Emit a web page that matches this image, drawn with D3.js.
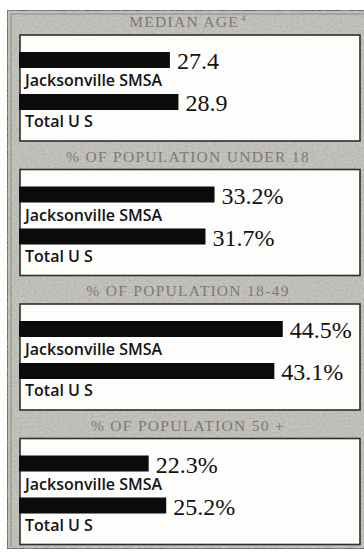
<!DOCTYPE html>
<html>
<head>
<meta charset="utf-8">
<script src="https://cdn.jsdelivr.net/npm/d3@7/dist/d3.min.js"></script>
<style>
  html, body { margin: 0; padding: 0; background: #fff; }
  svg { display: block; }
</style>
</head>
<body>
<div id="chart"></div>
<script>
// Population profile: Jacksonville SMSA against the U.S. total
const panelTitles = ["MEDIAN AGE", "% OF POPULATION UNDER 18", "% OF POPULATION 18-49", "% OF POPULATION 50 +"];
const titleNotes = ["4", "", "", ""];
const areas = ["Jacksonville SMSA", "Total U S"];
const jacksonville = [27.4, 33.2, 44.5, 22.3];
const totalUS = [28.9, 31.7, 43.1, 25.2];
const valueSuffix = ["", "%", "%", "%"];

const W = 364, H = 552;
const svg = d3.select("#chart").append("svg")
  .attr("width", W).attr("height", H);

// mottled grey card stock
const defs = svg.append("defs");
const tex = defs.append("filter").attr("id", "grain")
  .attr("x", 0).attr("y", 0).attr("width", "100%").attr("height", "100%");
tex.append("feTurbulence").attr("type", "fractalNoise")
  .attr("baseFrequency", "0.35 0.5").attr("numOctaves", 2).attr("seed", 7).attr("result", "n");
tex.append("feColorMatrix").attr("in", "n").attr("type", "matrix")
  .attr("values", "0 0 0 0 0.40  0 0 0 0 0.39  0 0 0 0 0.36  0 0 0 -1.1 0.78").attr("result", "spots");
tex.append("feComposite").attr("in", "spots").attr("in2", "SourceGraphic").attr("operator", "atop");

const frameX = 7, frameY = 10;
svg.append("rect")
  .attr("x", frameX).attr("y", frameY)
  .attr("width", W - frameX + 4).attr("height", H - frameY - 3)
  .attr("fill", "#c6c4be")
  .attr("stroke", "#4a4a48").attr("stroke-width", 1.6)
  .attr("filter", "url(#grain)");

// inner rule running just inside the frame
svg.append("path")
  .attr("d", `M${frameX + 4},${H - 5} V${frameY + 4} H${W + 2}`)
  .attr("fill", "none").attr("stroke", "#8d8b86").attr("stroke-width", 1);

const boxLeft = 20, boxRight = 360;
const boxTop0 = 35, boxStep = 134.5, boxH = 106;

// one scale for the percentage panels, one for age in years
const pctScale = d3.scaleLinear().domain([0, 50]).range([14, 316]);
const ageScale = d3.scaleLinear().domain([0, 30]).range([14, 184.7]);

const panels = panelTitles.map((t, i) => ({
  title: t, note: titleNotes[i], suffix: valueSuffix[i],
  scale: i === 0 ? ageScale : pctScale,
  values: [jacksonville[i], totalUS[i]]
}));

const g = svg.selectAll("g.panel").data(panels).join("g")
  .attr("class", "panel")
  .attr("transform", (d, i) => `translate(0,${boxTop0 + i * boxStep})`);

// section heading in the grey band
const heading = g.append("text")
  .attr("x", (boxLeft + boxRight) / 2 - 2).attr("y", -8)
  .attr("text-anchor", "middle")
  .attr("font-family", "Liberation Serif, serif")
  .attr("font-size", 15.5)
  .attr("letter-spacing", 1.3)
  .attr("fill", "#7a7977")
  .text(d => d.title);
heading.filter(d => d.note).append("tspan")
  .attr("dy", -6).attr("font-size", 9).attr("dx", 2)
  .text(d => d.note);

g.append("rect")
  .attr("x", boxLeft).attr("y", 0)
  .attr("width", boxRight - boxLeft).attr("height", boxH)
  .attr("fill", "#fdfdfc")
  .attr("stroke", "#2e2e2c").attr("stroke-width", 1.6);

const barH = 16, barTop = [17, 59], labelBase = [51, 92];

g.each(function (p) {
  const sel = d3.select(this);
  const rows = p.values.map((v, k) => ({ v, k, area: areas[k] }));

  sel.selectAll("rect.bar").data(rows).join("rect")
    .attr("class", "bar")
    .attr("x", boxLeft - 1)
    .attr("y", r => barTop[r.k])
    .attr("width", r => p.scale(r.v) - boxLeft + 1)
    .attr("height", barH)
    .attr("fill", "#0b0b0b");

  sel.selectAll("text.val").data(rows).join("text")
    .attr("class", "val")
    .attr("x", r => p.scale(r.v) + 7)
    .attr("y", r => barTop[r.k] + 17)
    .attr("font-family", "Liberation Serif, serif")
    .attr("font-size", 24)
    .attr("fill", "#111")
    .text(r => d3.format(".1f")(r.v) + p.suffix);

  sel.selectAll("text.area").data(rows).join("text")
    .attr("class", "area")
    .attr("x", 25)
    .attr("y", r => labelBase[r.k])
    .attr("font-family", "Open Sans, sans-serif")
    .attr("font-weight", 600)
    .attr("font-size", 16)
    .attr("fill", "#141414")
    .text(r => r.area);
});
</script>
</body>
</html>
